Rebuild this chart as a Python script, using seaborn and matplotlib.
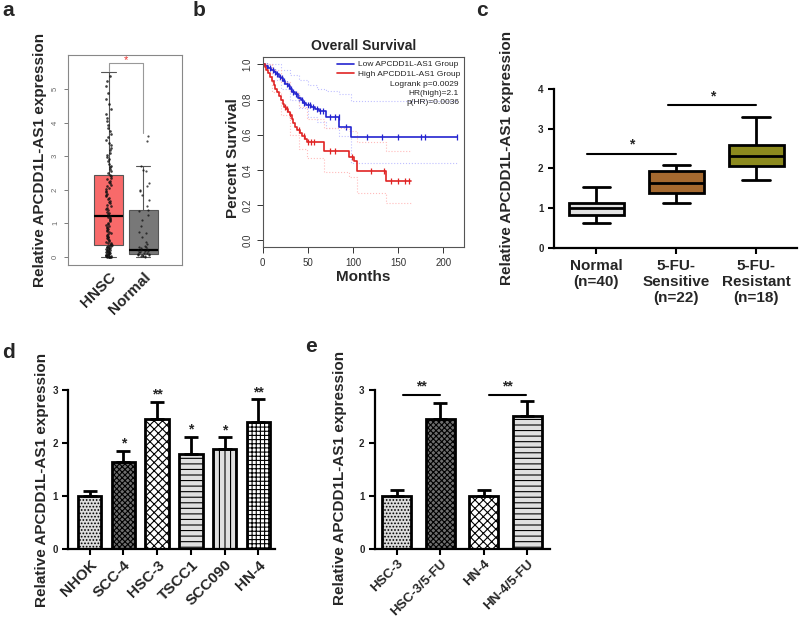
import numpy as np
import pandas as pd
import matplotlib
matplotlib.use('Agg')
import matplotlib.pyplot as plt
from matplotlib.lines import Line2D
import seaborn as sns

# ------------------------- data -------------------------
# panel a (GEPIA box plot)
a_groups = ['HNSC', 'Normal']
a_box_hnsc = [0.0, 0.35, 1.2, 2.45, 5.5]      # min, q1, median, q3, max
a_box_normal = [0.0, 0.08, 0.2, 1.4, 2.7]
a_pts_hnsc = [0.0, 0.0, 0.0, 0.0, 0.0, 0.01, 0.02, 0.03, 0.04, 0.05, 0.06, 0.08, 0.09, 0.1,
              0.11, 0.13, 0.14, 0.15, 0.17, 0.18, 0.2, 0.21, 0.22, 0.24, 0.25, 0.27, 0.28,
              0.3, 0.31, 0.33, 0.34, 0.36, 0.38, 0.4, 0.42, 0.45, 0.47, 0.5, 0.52, 0.55,
              0.58, 0.6, 0.63, 0.66, 0.68, 0.71, 0.74, 0.77, 0.8, 0.83, 0.86, 0.89, 0.92,
              0.95, 0.98, 1.01, 1.05, 1.08, 1.12, 1.15, 1.18, 1.22, 1.26, 1.3, 1.34, 1.38,
              1.42, 1.46, 1.5, 1.55, 1.59, 1.63, 1.67, 1.71, 1.76, 1.8, 1.84, 1.88, 1.93,
              1.97, 2.01, 2.06, 2.1, 2.14, 2.19, 2.23, 2.27, 2.32, 2.36, 2.4, 2.44, 2.5,
              2.55, 2.61, 2.67, 2.72, 2.78, 2.85, 2.9, 2.97, 3.03, 3.1, 3.17, 3.25, 3.33,
              3.4, 3.48, 3.57, 3.65, 3.75, 3.84, 3.94, 4.05, 4.15, 4.27, 4.4, 4.55, 4.7,
              4.88, 5.1, 5.25, 5.4]
a_pts_normal = [0.0, 0.01, 0.02, 0.03, 0.04, 0.05, 0.06, 0.07, 0.08, 0.09, 0.1, 0.12, 0.14,
                0.15, 0.17, 0.18, 0.19, 0.2, 0.22, 0.25, 0.28, 0.3, 0.33, 0.38, 0.45, 0.6,
                0.7, 0.75, 0.9, 1.1, 1.25, 1.35, 1.4, 1.5, 1.7, 1.85, 1.95, 2.0, 2.1, 2.2,
                2.55, 2.6, 2.7, 3.45, 3.6]
a_yticks = [0, 1, 2, 3, 4, 5]

# panel b (Kaplan-Meier)
low_t = [0, 3, 6, 9, 12, 15, 18, 20, 22, 25, 28, 30, 33, 36, 39, 42, 45, 48, 53, 58, 62,
         70, 85, 98, 215]
low_s = [1.0, 0.99, 0.98, 0.965, 0.955, 0.945, 0.93, 0.92, 0.905, 0.89, 0.875, 0.86, 0.845,
         0.83, 0.81, 0.795, 0.78, 0.77, 0.76, 0.745, 0.735, 0.70, 0.645, 0.585, 0.585]
high_t = [0, 2, 4, 6, 8, 10, 12, 14, 16, 18, 20, 22, 24, 26, 28, 30, 32, 34, 36, 38, 41, 44,
          47, 49, 68, 96, 101, 104, 137, 164]
high_s = [1.0, 0.985, 0.97, 0.95, 0.93, 0.905, 0.88, 0.86, 0.84, 0.82, 0.80, 0.775, 0.76,
          0.745, 0.73, 0.71, 0.69, 0.665, 0.645, 0.625, 0.61, 0.595, 0.575, 0.56, 0.505,
          0.475, 0.45, 0.395, 0.335, 0.335]
low_cens = [5, 8, 11, 14, 16, 19, 21, 24, 27, 29, 31, 34, 37, 40, 43, 46, 50, 52, 56, 60,
            64, 67, 75, 80, 84, 92, 115, 132, 150, 175, 180, 215]
high_cens = [25, 27, 30, 40, 46, 50, 53, 57, 75, 80, 99, 120, 134, 142, 150, 158, 162]
band_t_low = [0, 10, 20, 30, 40, 50, 60, 70, 85, 98, 215]
low_upper = [1.0, 1.0, 0.97, 0.94, 0.91, 0.88, 0.86, 0.85, 0.83, 0.79, 0.79]
low_lower = [1.0, 0.91, 0.86, 0.80, 0.75, 0.70, 0.67, 0.64, 0.59, 0.44, 0.44]
band_t_high = [0, 10, 20, 30, 40, 49, 68, 96, 104, 137, 164]
high_upper = [1.0, 0.97, 0.90, 0.84, 0.76, 0.69, 0.64, 0.62, 0.56, 0.51, 0.51]
high_lower = [1.0, 0.84, 0.71, 0.60, 0.52, 0.47, 0.39, 0.36, 0.27, 0.21, 0.21]
b_xticks = [0, 50, 100, 150, 200]
b_yticks = [0.0, 0.2, 0.4, 0.6, 0.8, 1.0]
b_stats = ['Logrank p=0.0029', 'HR(high)=2.1', 'p(HR)=0.0036']

# panel c (box plot, five-number summaries)
c_groups = ['Normal\n(n=40)', '5-FU-\nSensitive\n(n=22)', '5-FU-\nResistant\n(n=18)']
c_normal = [0.64, 0.83, 1.02, 1.14, 1.53]
c_sensitive = [1.14, 1.39, 1.64, 1.94, 2.10]
c_resistant = [1.72, 2.06, 2.31, 2.58, 3.29]
c_colors = ['#e2e2e2', '#a5692f', '#8c8a1e']

# panel d
d_cats = ['NHOK', 'SCC-4', 'HSC-3', 'TSCC1', 'SCC090', 'HN-4']
d_vals = [1.00, 1.65, 2.45, 1.80, 1.88, 2.40]
d_sd = [0.10, 0.21, 0.33, 0.32, 0.23, 0.43]
d_sig = ['', '*', '**', '*', '*', '**']

# panel e
e_cats = ['HSC-3', 'HSC-3/5-FU', 'HN-4', 'HN-4/5-FU']
e_vals = [1.00, 2.45, 1.00, 2.51]
e_sd = [0.12, 0.30, 0.11, 0.28]

ylab = 'Relative APCDD1L-AS1 expression'

# ------------------------- style -------------------------
sns.set_theme(style='ticks')
plt.rcParams['font.family'] = ['Liberation Sans', 'DejaVu Sans']
plt.rcParams['hatch.linewidth'] = 0.8

fig = plt.figure(figsize=(8, 6.22), dpi=100)
W, H = 800.0, 622.0


def axes_px(x0, y0, x1, y1):
    return fig.add_axes([x0 / W, 1 - y1 / H, (x1 - x0) / W, (y1 - y0) / H])


def prism(ax):
    sns.despine(ax=ax)
    for s in ['left', 'bottom']:
        ax.spines[s].set_linewidth(1.6)
        ax.spines[s].set_color('black')
    ax.tick_params(axis='both', direction='out', length=4, width=1.5, color='black',
                   labelsize=7)
    for lab in ax.get_yticklabels():
        lab.set_fontweight('bold')


# ------------------------- panel a -------------------------
axa = axes_px(68, 55, 182, 265)
dfa = pd.DataFrame({'group': ['HNSC'] * 5 + ['Normal'] * 5,
                    'val': a_box_hnsc + a_box_normal})
sns.boxplot(data=dfa, x='group', y='val', hue='group', order=a_groups,
            palette=['#f86a6a', '#787878'], saturation=1, whis=(0, 100), showfliers=False,
            width=0.84, linewidth=0.8, linecolor='#555555', legend=False, ax=axa,
            medianprops=dict(color='black', linewidth=1.6))
np.random.seed(3)
sns.stripplot(x=['HNSC'] * len(a_pts_hnsc), y=a_pts_hnsc, order=a_groups, jitter=0.09,
              size=1.9, color='#111111', alpha=0.8, linewidth=0, ax=axa)
sns.stripplot(x=['Normal'] * len(a_pts_normal), y=a_pts_normal, order=a_groups,
              jitter=0.17, size=1.6, color='#111111', alpha=0.75, linewidth=0, ax=axa)
brk_top, brk_left, brk_right = 5.77, 5.55, 3.7
axa.plot([0, 0, 1, 1], [brk_left, brk_top, brk_top, brk_right], color='#999999', lw=0.8)
axa.text(0.5, brk_top - 0.05, '*', color='#e8332f', ha='center', va='bottom', fontsize=8)
axa.set_xlim(-1.17, 2.12)
axa.set_ylim(-0.25, 6.02)
axa.set_yticks(a_yticks)
axa.set_xlabel('')
axa.set_ylabel('')
for s in axa.spines.values():
    s.set_color('#888888')
    s.set_linewidth(0.8)
axa.tick_params(axis='y', labelsize=5.5, colors='#666666', length=3, width=0.6,
                labelrotation=90)
for lab in axa.get_yticklabels():
    lab.set_va('center')
axa.tick_params(axis='x', length=0, labelsize=11)
for lab in axa.get_xticklabels():
    lab.set_rotation(45)
    lab.set_ha('right')
    lab.set_rotation_mode('anchor')
    lab.set_fontweight('bold')

# ------------------------- panel b -------------------------
axb = axes_px(262.7, 57.3, 464, 247.3)
blue, red = '#2424d0', '#e02424'


def step_at(ts, ss, x):
    idx = np.searchsorted(ts, x, side='right') - 1
    return np.asarray(ss)[idx]


sns.lineplot(x=band_t_low, y=low_upper, drawstyle='steps-post', color='#c0c0ff', lw=0.8,
             linestyle=':', estimator=None, ax=axb)
sns.lineplot(x=band_t_low, y=low_lower, drawstyle='steps-post', color='#c0c0ff', lw=0.8,
             linestyle=':', estimator=None, ax=axb)
sns.lineplot(x=band_t_high, y=high_upper, drawstyle='steps-post', color='#ffbcbc', lw=0.8,
             linestyle=':', estimator=None, ax=axb)
sns.lineplot(x=band_t_high, y=high_lower, drawstyle='steps-post', color='#ffbcbc', lw=0.8,
             linestyle=':', estimator=None, ax=axb)
sns.lineplot(x=low_t, y=low_s, drawstyle='steps-post', color=blue, lw=1.2,
             estimator=None, ax=axb)
sns.lineplot(x=high_t, y=high_s, drawstyle='steps-post', color=red, lw=1.2,
             estimator=None, ax=axb)
sns.scatterplot(x=low_cens, y=step_at(low_t, low_s, low_cens), marker='|', s=22,
                color=blue, linewidth=0.9, ax=axb)
sns.scatterplot(x=high_cens, y=step_at(high_t, high_s, high_cens), marker='|', s=22,
                color=red, linewidth=0.9, ax=axb)
axb.set_xlim(0, 223)
axb.set_ylim(-0.04, 1.04)
axb.set_xticks(b_xticks)
axb.set_yticks(b_yticks)
axb.set_yticklabels([f'{v:.1f}' for v in b_yticks])
for s in axb.spines.values():
    s.set_color('#555555')
    s.set_linewidth(0.8)
axb.tick_params(axis='both', labelsize=7, colors='#333333', length=4, width=0.7)
axb.tick_params(axis='y', labelrotation=90)
for lab in axb.get_yticklabels():
    lab.set_va('center')
axb.set_xlabel('Months', fontsize=11, fontweight='bold', labelpad=2)
axb.set_ylabel('')
fig.text(233 / W, 1 - 158 / H, 'Percent Survival', rotation=90, ha='center', va='center',
         fontsize=11, fontweight='bold')
axb.set_title('Overall Survival', fontsize=10, fontweight='bold', pad=5)
handles = [Line2D([], [], color=blue, lw=1.2), Line2D([], [], color=red, lw=1.2)]
axb.legend(handles, ['Low APCDD1L-AS1 Group', 'High APCDD1L-AS1 Group'], loc='upper right',
           frameon=False, fontsize=6, handlelength=2.0, borderaxespad=0.2, borderpad=0.2,
           labelspacing=0.15, handletextpad=0.5)
for i, t in enumerate(b_stats):
    axb.text(0.975, 0.859 - 0.049 * i, t, transform=axb.transAxes, ha='right', va='center',
             fontsize=6, color='#222222')

# ------------------------- panel c -------------------------
axc = axes_px(554, 88.7, 797, 248.3)
dfc = pd.DataFrame({'group': [c_groups[0]] * 5 + [c_groups[1]] * 5 + [c_groups[2]] * 5,
                    'val': c_normal + c_sensitive + c_resistant})
sns.boxplot(data=dfc, x='group', y='val', hue='group', order=c_groups, palette=c_colors,
            saturation=1, whis=(0, 100), showfliers=False, width=0.69, linewidth=2,
            linecolor='black', legend=False, ax=axc)
axc.set_xlim(-0.53, 2.51)
axc.set_ylim(0, 4)
axc.set_yticks([0, 1, 2, 3, 4])
axc.set_xlabel('')
axc.set_ylabel('')
prism(axc)
for lab in axc.get_xticklabels():
    lab.set_fontsize(11)
    lab.set_fontweight('bold')
axc.plot([-0.12, 1.0], [2.37, 2.37], color='black', lw=1.5, clip_on=False)
axc.text(0.44, 2.43, '*', ha='center', va='bottom', fontsize=10, fontweight='bold')
axc.plot([0.89, 2.0], [3.58, 3.58], color='black', lw=1.5, clip_on=False)
axc.text(1.46, 3.64, '*', ha='center', va='bottom', fontsize=10, fontweight='bold')


# ------------------------- panels d / e -------------------------
def hatched_bars(ax, cats, vals, sds, colors, hatches, width, fs):
    sns.barplot(x=cats, y=vals, hue=cats, palette=colors, saturation=1, legend=False,
                width=width, edgecolor='black', linewidth=2, errorbar=None, ax=ax)
    for p, h in zip(ax.patches, hatches):
        p.set_hatch(h)
    n = len(cats)
    ax.errorbar(np.arange(n), vals, yerr=[np.zeros(n), sds], fmt='none', ecolor='black',
                elinewidth=2, capsize=5, capthick=2, zorder=1)
    ax.set_ylim(0, 3)
    ax.set_yticks([0, 1, 2, 3])
    ax.set_xlabel('')
    ax.set_ylabel('')
    prism(ax)
    ax.tick_params(axis='x', pad=2)
    for lab in ax.get_xticklabels():
        lab.set_rotation(45)
        lab.set_ha('right')
        lab.set_rotation_mode('anchor')
        lab.set_fontsize(fs)
        lab.set_fontweight('bold')


axd = axes_px(68.3, 390, 275, 549.3)
hatched_bars(axd, d_cats, d_vals, d_sd,
             ['#dcdcdc', '#6e6e6e', '#ffffff', '#e0e0e0', '#e0e0e0', '#ffffff'],
             ['.....', 'xxxxxx', 'xxxx', '---', '|||', '++++'], 0.70, 11)
axd.set_xlim(-0.63, 5.49)
for i, s in enumerate(d_sig):
    if s:
        axd.text(i, d_vals[i] + d_sd[i] + 0.0, s, ha='center', va='bottom', fontsize=10,
                 fontweight='bold', clip_on=False)

axe = axes_px(375, 390, 550, 549.3)
hatched_bars(axe, e_cats, e_vals, e_sd, ['#dcdcdc', '#6e6e6e', '#ffffff', '#e0e0e0'],
             ['.....', 'xxxxxx', 'xxxx', '---'], 0.667, 9.6)
axe.set_xlim(-0.506, 3.52)
for x0, x1 in [(0.13, 1.0), (2.12, 2.96)]:
    axe.plot([x0, x1], [2.91, 2.91], color='black', lw=1.5, clip_on=False)
    axe.text((x0 + x1) / 2, 2.94, '**', ha='center', va='bottom', fontsize=10,
             fontweight='bold', clip_on=False)

# ------------------------- y labels & panel letters -------------------------
for (x, y) in [(40, 160), (506.7, 158), (42, 480), (340, 478)]:
    fig.text(x / W, 1 - y / H, ylab, rotation=90, ha='center', va='center', fontsize=11,
             fontweight='bold')
for letter, (x, y) in zip('abcde', [(8, 10), (199, 10), (482, 11), (8.5, 352), (311, 346)]):
    fig.text(x / W, 1 - y / H, letter, ha='center', va='center', fontsize=15,
             fontweight='bold')

fig.savefig('out.png', dpi=100)
